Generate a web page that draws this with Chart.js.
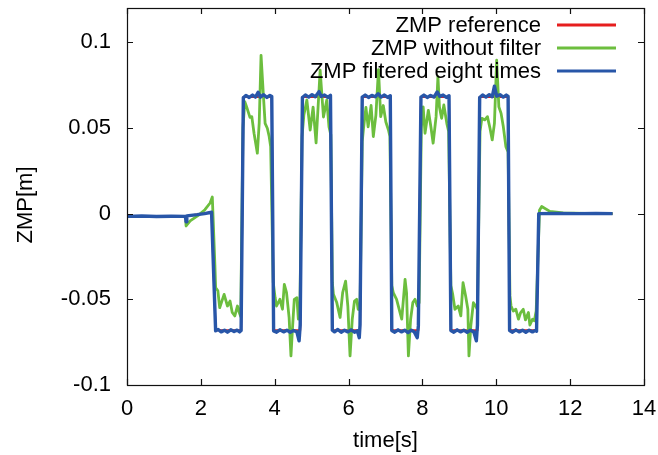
<!DOCTYPE html>
<html>
<head>
<meta charset="utf-8">
<script src="https://cdn.jsdelivr.net/npm/chart.js@4.4.1/dist/chart.umd.min.js"></script>
<style>
  html, body { margin: 0; padding: 0; background: #fff; }
  canvas { display: block; }
</style>
</head>
<body>
<canvas id="zmpChart" width="658" height="455"></canvas>
<script>
// ZMP reference (square wave)
const refTime = [0, 1.60, 2.29, 2.40, 3.09, 3.15, 3.92, 3.97, 4.69, 4.75, 5.51, 5.56, 6.31, 6.37, 7.13, 7.17,
  7.89, 7.96, 8.72, 8.77, 9.49, 9.55, 10.32, 10.36, 11.09, 11.15, 13.15];
const refZmp = [-0.0015, -0.0015, 0.0008, -0.068, -0.068, 0.068, 0.068, -0.068, -0.068, 0.068, 0.068, -0.068,
  -0.068, 0.068, 0.068, -0.068, -0.068, 0.068, 0.068, -0.068, -0.068, 0.068, 0.068, -0.068, -0.068, 0, 0];

// ZMP without filter
const rawTime = [1.59, 1.60, 1.71, 1.93, 2.11, 2.25, 2.31, 2.38, 2.40, 2.46, 2.51, 2.63, 2.72, 2.79, 2.85, 2.92,
  2.99, 3.04, 3.08, 3.14, 3.19, 3.24, 3.33, 3.38, 3.44, 3.53, 3.58, 3.63, 3.69, 3.74, 3.80, 3.85, 3.89,
  3.96, 4.01, 4.05, 4.14, 4.21, 4.26, 4.32, 4.39, 4.44, 4.48, 4.53, 4.60, 4.64, 4.68,
  4.74, 4.79, 4.87, 4.96, 5.04, 5.12, 5.23, 5.32, 5.41, 5.47, 5.52,
  5.56, 5.59, 5.68, 5.77, 5.84, 5.92, 5.98, 6.04, 6.10, 6.16, 6.22, 6.26, 6.31,
  6.37, 6.40, 6.47, 6.53, 6.61, 6.67, 6.74, 6.81, 6.87, 6.94, 7.01, 7.08, 7.12,
  7.17, 7.21, 7.30, 7.44, 7.53, 7.57, 7.62, 7.68, 7.74, 7.80, 7.86, 7.91,
  7.97, 8.02, 8.07, 8.16, 8.23, 8.29, 8.37, 8.42, 8.46, 8.52, 8.58, 8.66, 8.71,
  8.77, 8.82, 8.88, 8.97, 9.04, 9.10, 9.17, 9.23, 9.26, 9.31, 9.38, 9.44, 9.49,
  9.56, 9.61, 9.69, 9.76, 9.83, 9.89, 9.95, 10.01, 10.07, 10.13, 10.19, 10.26, 10.32,
  10.37, 10.40, 10.46, 10.53, 10.60, 10.66, 10.73, 10.79, 10.87, 10.91, 10.98, 11.03, 11.08,
  11.17, 11.23, 11.45, 11.81, 12.40, 13.15];
const rawZmp = [-0.0040, -0.0072, -0.0042, -0.0010, 0.0023, 0.0062, 0.0097, -0.0300, -0.0432, -0.0450, -0.0549,
  -0.0471, -0.0539, -0.0510, -0.0577, -0.0597, -0.0539, -0.0577, -0.0600,
  0.0500, 0.0653, 0.0623, 0.0562, 0.0566, 0.0469, 0.0353, 0.0529, 0.0924, 0.0702, 0.0527, 0.0498, 0.0450, 0.0391,
  -0.0400, -0.0490, -0.0539, -0.0500, -0.0558, -0.0413, -0.0461, -0.0607, -0.0830, -0.0674, -0.0500, -0.0490, -0.0616, -0.0597,
  0.0450, 0.0576, 0.0663, 0.0488, 0.0622, 0.0413, 0.0837, 0.0564, 0.0663, 0.0506, 0.0460,
  -0.0400, -0.0471, -0.0519, -0.0606, -0.0461, -0.0394, -0.0539, -0.0830, -0.0616, -0.0510, -0.0500, -0.0558, -0.0560,
  0.0420, 0.0488, 0.0620, 0.0506, 0.0631, 0.0450, 0.0575, 0.0840, 0.0566, 0.0631, 0.0535, 0.0488, 0.0450,
  -0.0420, -0.0461, -0.0500, -0.0616, -0.0384, -0.0461, -0.0830, -0.0616, -0.0519, -0.0500, -0.0539, -0.0520,
  0.0500, 0.0623, 0.0469, 0.0603, 0.0506, 0.0411, 0.0566, 0.0800, 0.0623, 0.0556, 0.0634, 0.0527, 0.0480,
  -0.0420, -0.0471, -0.0558, -0.0539, -0.0597, -0.0403, -0.0481, -0.0558, -0.0830, -0.0655, -0.0520, -0.0539, -0.0560,
  0.0480, 0.0556, 0.0547, 0.0566, 0.0498, 0.0430, 0.0527, 0.0895, 0.0623, 0.0585, 0.0508, 0.0391, 0.0360,
  -0.0480, -0.0539, -0.0568, -0.0558, -0.0616, -0.0577, -0.0558, -0.0620, -0.0577, -0.0650, -0.0616, -0.0625, -0.0568,
  0.0020, 0.0042, 0.0013, 0.0004, 0.0001, 0.0000];

// ZMP filtered eight times
const filtTime = [0, 0.40, 0.80, 1.20, 1.58, 1.60, 1.62, 1.90, 2.10, 2.29,
  2.40, 2.47, 2.55, 2.64, 2.72, 2.81, 2.90, 2.98, 3.05, 3.09,
  3.15, 3.22, 3.31, 3.40, 3.48, 3.55, 3.61, 3.70, 3.79, 3.87, 3.92,
  3.97, 4.05, 4.14, 4.24, 4.33, 4.42, 4.51, 4.60, 4.66, 4.69,
  4.75, 4.83, 4.92, 5.01, 5.10, 5.20, 5.26, 5.35, 5.44, 5.51,
  5.56, 5.62, 5.71, 5.80, 5.89, 5.98, 6.07, 6.16, 6.24, 6.29, 6.31,
  6.37, 6.45, 6.54, 6.63, 6.72, 6.80, 6.88, 6.97, 7.06, 7.13,
  7.17, 7.25, 7.34, 7.43, 7.52, 7.61, 7.70, 7.78, 7.86, 7.89,
  7.96, 8.04, 8.13, 8.22, 8.31, 8.40, 8.47, 8.56, 8.65, 8.72,
  8.77, 8.85, 8.94, 9.03, 9.12, 9.21, 9.30, 9.39, 9.46, 9.49,
  9.55, 9.63, 9.72, 9.81, 9.89, 9.95, 10.01, 10.10, 10.19, 10.27, 10.32,
  10.36, 10.44, 10.53, 10.62, 10.71, 10.80, 10.89, 10.98, 11.05, 11.09,
  11.15, 11.60, 12.20, 12.70, 13.15];
const filtZmp = [-0.0016, -0.0014, -0.0017, -0.0015, -0.0016, -0.0048, -0.0013, -0.0006, 0.0000, 0.0008,
  -0.0684, -0.0676, -0.0690, -0.0680, -0.0692, -0.0678, -0.0688, -0.0680, -0.0690, -0.0682,
  0.0676, 0.0690, 0.0678, 0.0692, 0.0680, 0.0708, 0.0680, 0.0694, 0.0678, 0.0690, 0.0684,
  -0.0684, -0.0692, -0.0678, -0.0690, -0.0680, -0.0692, -0.0682, -0.0690, -0.0742, -0.0650,
  0.0678, 0.0692, 0.0680, 0.0694, 0.0682, 0.0712, 0.0684, 0.0692, 0.0678, 0.0690,
  -0.0680, -0.0690, -0.0676, -0.0692, -0.0680, -0.0690, -0.0678, -0.0692, -0.0684, -0.0724, -0.0650,
  0.0680, 0.0692, 0.0678, 0.0690, 0.0682, 0.0700, 0.0680, 0.0692, 0.0678, 0.0688,
  -0.0682, -0.0692, -0.0678, -0.0690, -0.0680, -0.0694, -0.0680, -0.0690, -0.0724, -0.0655,
  0.0680, 0.0692, 0.0678, 0.0690, 0.0680, 0.0710, 0.0684, 0.0692, 0.0678, 0.0688,
  -0.0682, -0.0692, -0.0678, -0.0690, -0.0680, -0.0692, -0.0680, -0.0690, -0.0742, -0.0650,
  0.0678, 0.0692, 0.0680, 0.0694, 0.0682, 0.0744, 0.0686, 0.0694, 0.0680, 0.0692, 0.0684,
  -0.0682, -0.0692, -0.0678, -0.0690, -0.0680, -0.0692, -0.0680, -0.0690, -0.0682, -0.0686,
  0.0000, 0.0001, 0.0000, 0.0001, 0.0000];

const xTicks = [0, 2, 4, 6, 8, 10, 12, 14];
const yTicks = [-0.1, -0.05, 0, 0.05, 0.1];
const yTickLabels = ['-0.1', '-0.05', '0', '0.05', '0.1'];

const FONT = { family: 'Liberation Sans', size: 22 };

function toPoints(xs, ys) {
    return xs.map((x, i) => ({ x: x, y: ys[i] }));
}

// frame with inward ticks on all four sides (gnuplot style), y title, legend at top right
const framePlugin = {
    id: 'frame',
    afterDatasetsDraw(chart) {
        const ctx = chart.ctx;
        const a = chart.chartArea;
        const xs = chart.scales.x, ys = chart.scales.y;
        const tl = 6;
        ctx.save();
        ctx.strokeStyle = '#111';
        ctx.lineWidth = 1.2;
        ctx.beginPath();
        xTicks.forEach(v => {
            const px = Math.round(xs.getPixelForValue(v)) + 0.5;
            ctx.moveTo(px, a.bottom); ctx.lineTo(px, a.bottom - tl);
            ctx.moveTo(px, a.top); ctx.lineTo(px, a.top + tl);
        });
        yTicks.forEach(v => {
            const py = Math.round(ys.getPixelForValue(v)) + 0.5;
            ctx.moveTo(a.left, py); ctx.lineTo(a.left + tl, py);
            ctx.moveTo(a.right, py); ctx.lineTo(a.right - tl, py);
        });
        ctx.stroke();
        ctx.strokeRect(Math.round(a.left) + 0.5, Math.round(a.top) + 0.5,
            Math.round(a.right - a.left), Math.round(a.bottom - a.top));

        ctx.font = FONT.size + 'px ' + FONT.family;
        ctx.fillStyle = '#000';
        ctx.textBaseline = 'middle';

        // y axis title
        ctx.save();
        ctx.translate(26, 205);
        ctx.rotate(-Math.PI / 2);
        ctx.textAlign = 'center';
        ctx.fillText('ZMP[m]', 0, 0);
        ctx.restore();

        // legend
        ctx.textAlign = 'right';
        chart.data.datasets.forEach((ds, i) => {
            const y = 25 + i * 23;
            ctx.fillStyle = '#000';
            ctx.fillText(ds.label, 541, y + 1);
            ctx.strokeStyle = ds.borderColor;
            ctx.lineWidth = 3;
            ctx.beginPath();
            ctx.moveTo(557, y);
            ctx.lineTo(616, y);
            ctx.stroke();
        });
        ctx.restore();
    }
};

const ctx = document.getElementById('zmpChart').getContext('2d');
const zmpChart = new Chart(ctx, {
    type: 'line',
    data: {
        datasets: [{
            label: 'ZMP reference',
            data: toPoints(refTime, refZmp),
            borderColor: 'rgb(230, 30, 30)',
            borderWidth: 2,
            order: 3
        }, {
            label: 'ZMP without filter',
            data: toPoints(rawTime, rawZmp),
            borderColor: 'rgb(108, 190, 62)',
            borderWidth: 2.8,
            order: 2
        }, {
            label: 'ZMP filtered eight times',
            data: toPoints(filtTime, filtZmp),
            borderColor: 'rgb(40, 86, 168)',
            borderWidth: 3.4,
            order: 1
        }]
    },
    options: {
        responsive: false,
        animation: false,
        devicePixelRatio: 1,
        elements: {
            point: { radius: 0 },
            line: { tension: 0, borderJoinStyle: 'round', fill: false }
        },
        layout: { padding: { top: 8, right: 14, left: 0, bottom: 0 } },
        plugins: {
            legend: { display: false },
            tooltip: { enabled: false }
        },
        scales: {
            x: {
                type: 'linear',
                min: 0,
                max: 14,
                afterBuildTicks(scale) { scale.ticks = xTicks.map(v => ({ value: v })); },
                afterFit(scale) {
                    scale.height = 70;
                    scale.paddingLeft = 0; scale.paddingRight = 0;
                },
                grid: { display: false, drawTicks: false },
                border: { display: false },
                ticks: { color: '#000', font: FONT, padding: 11, maxRotation: 0 },
                title: { display: true, text: 'time[s]', color: '#000', font: FONT, padding: { top: 0, bottom: 1 } }
            },
            y: {
                type: 'linear',
                min: -0.1,
                max: 0.12,
                afterBuildTicks(scale) { scale.ticks = yTicks.map(v => ({ value: v })); },
                afterFit(scale) {
                    scale.width = 127;
                    scale.paddingTop = 0; scale.paddingBottom = 0;
                },
                grid: { display: false, drawTicks: false },
                border: { display: false },
                ticks: {
                    color: '#000',
                    font: FONT,
                    padding: 16,
                    callback: (v) => yTickLabels[yTicks.indexOf(v)]
                },
                title: { display: false }
            }
        }
    },
    plugins: [framePlugin]
});
</script>
</body>
</html>
